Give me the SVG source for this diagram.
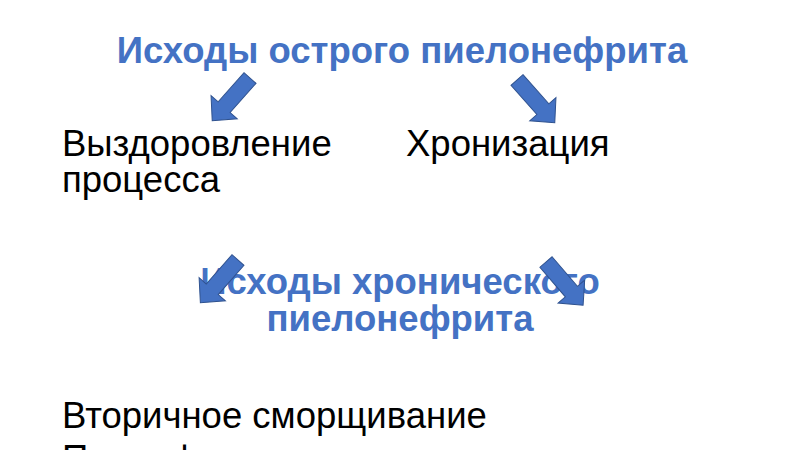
<svg xmlns="http://www.w3.org/2000/svg" xmlns:xlink="http://www.w3.org/1999/xlink" width="800" height="450" viewBox="0 0 800 450">
  <style>
    .title { font-family: "Liberation Sans", Arial, sans-serif; font-weight: bold; font-size: 36.5px; fill: #4472C4; text-anchor: middle; }
    .body { font-family: "Liberation Sans", Arial, sans-serif; font-size: 36.5px; fill: #000000; }
    .arrow { fill: #4472C4; stroke: #2F528F; stroke-width: 1; }
  </style>
  <defs>
    <path id="blockArrow" d="M0,-8 L39,-8 L39,-17.5 L57,0 L39,17.5 L39,8 L0,8 Z"/>
  </defs>
  <rect width="800" height="450" fill="#ffffff"/>

  <g id="title-acute">
    <text class="title" x="402" y="63">Исходы острого пиелонефрита</text>
  </g>
  <g id="recovery">
    <text class="body" x="62" y="156">Выздоровление</text>
    <text class="body" x="62" y="192">процесса</text>
  </g>
  <g id="chronic">
    <text class="body" x="406" y="156">Хронизация</text>
  </g>
  <g id="title-chronic">
    <text class="title" x="400" y="294">Исходы хронического</text>
    <text class="title" x="400" y="331">пиелонефрита</text>
  </g>
  <g id="outcomes">
    <text class="body" x="62" y="428">Вторичное сморщивание</text>
    <text class="body" x="62" y="471">Пионефроз</text>
  </g>

  <g id="connectors">
    <use xlink:href="#blockArrow" class="arrow" transform="translate(250,78) rotate(131.5)"/>
    <use xlink:href="#blockArrow" class="arrow" transform="translate(517,80) rotate(48.5)"/>
    <use xlink:href="#blockArrow" class="arrow" transform="translate(238,260) rotate(131.3)"/>
    <use xlink:href="#blockArrow" class="arrow" transform="translate(546,262) rotate(49.4)"/>
  </g>
</svg>
